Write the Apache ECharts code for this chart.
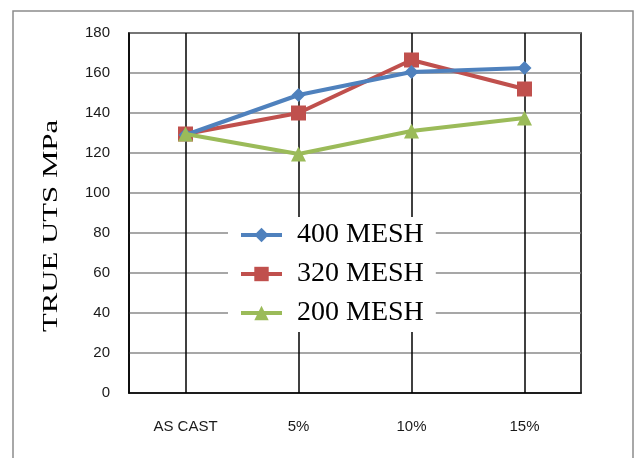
<!DOCTYPE html>
<html>
<head>
<meta charset="utf-8">
<script src="https://cdn.jsdelivr.net/npm/echarts@6/dist/echarts.min.js"></script>
<style>html,body{margin:0;padding:0;background:#fff}#c{width:634px;height:458px}</style>
</head>
<body>
<div id="c"></div>
<script>
var categories = ['AS CAST', '5%', '10%', '15%'];
var mesh400 = [129, 149, 160.5, 162.5];
var mesh320 = [129.5, 140, 166.5, 152];
var mesh200 = [129.5, 119.5, 131, 137.5];
var seriesNames = ['400 MESH', '320 MESH', '200 MESH'];
var yTitle = 'TRUE UTS MPa';

var chart = echarts.init(document.getElementById('c'), null, {renderer: 'canvas'});
var labelFont = {fontFamily: 'Liberation Sans', fontSize: 15, color: '#1a1a1a'};
chart.setOption({
  animation: false,
  backgroundColor: '#fff',
  grid: {left: 129, right: 53, top: 33, bottom: 65, show: true, borderColor: '#000', borderWidth: 1.5, backgroundColor: 'transparent'},
  xAxis: {
    type: 'category', data: categories, boundaryGap: true,
    axisLine: {lineStyle: {color: '#000', width: 1.5}},
    axisTick: {show: false},
    axisLabel: Object.assign({margin: 26}, labelFont),
    splitLine: {show: true, alignWithLabel: true, lineStyle: {color: '#000', width: 1.5}}
  },
  yAxis: {
    type: 'value', min: 0, max: 180, interval: 20,
    axisLine: {show: true, lineStyle: {color: '#000', width: 1.5}},
    axisTick: {show: false},
    axisLabel: Object.assign({margin: 19}, labelFont),
    splitLine: {show: true, lineStyle: {color: '#8a8a8a', width: 1.5}}
  },
  legend: {
    orient: 'vertical', left: 228, top: 217,
    padding: [4, 12, 5, 11], itemGap: 11,
    itemWidth: 41, itemHeight: 18,
    backgroundColor: '#fff',
    lineStyle: {width: 4},
    textStyle: {fontFamily: 'Liberation Serif', fontSize: 28, color: '#000', padding: [0, 0, 0, 10]},
    data: seriesNames
  },
  graphic: [
    {type: 'rect', shape: {x: 13, y: 11, width: 620, height: 460}, style: {fill: 'none', stroke: '#8c8c8c', lineWidth: 1.5}, z: -1, silent: true},
    {type: 'text', x: 51, y: 226, rotation: Math.PI / 2, scaleX: 1.4,
     style: {text: yTitle, font: '22px "Liberation Serif"', fill: '#000', align: 'center', verticalAlign: 'middle'}}
  ],
  series: [
    {name: seriesNames[0], type: 'line', data: mesh400, symbol: 'diamond', symbolSize: 14,
     lineStyle: {color: '#4F81BD', width: 4}, itemStyle: {color: '#4F81BD'}, z: 3},
    {name: seriesNames[1], type: 'line', data: mesh320, symbol: 'rect', symbolSize: 15,
     lineStyle: {color: '#C0504D', width: 4}, itemStyle: {color: '#C0504D'}, z: 2},
    {name: seriesNames[2], type: 'line', data: mesh200, symbol: 'triangle', symbolSize: 15,
     lineStyle: {color: '#9BBB59', width: 4}, itemStyle: {color: '#9BBB59'}, z: 4}
  ]
});
</script>
</body>
</html>
